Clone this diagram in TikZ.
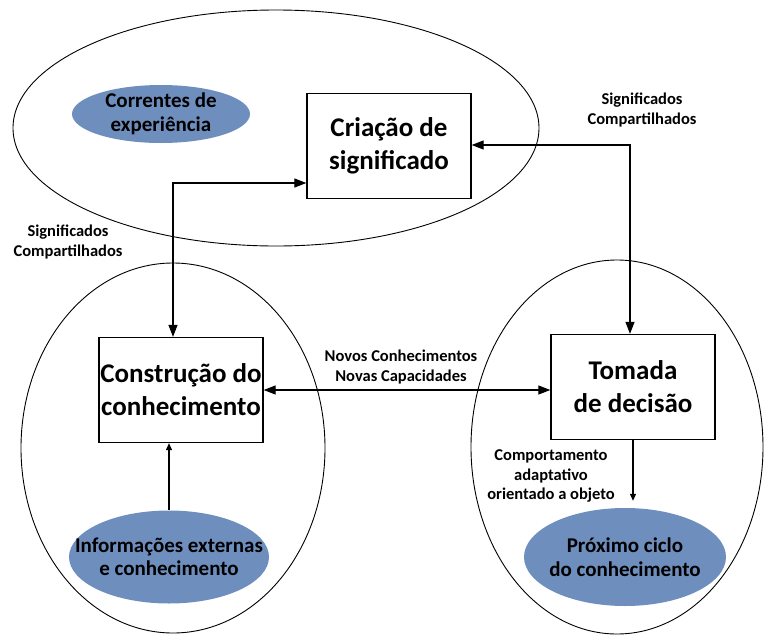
\documentclass[tikz,border=0pt]{standalone}
\usepackage{fontspec}
\setmainfont{Carlito}
\usetikzlibrary{arrows.meta,shapes.geometric}

\definecolor{cyclefill}{RGB}{110,143,190}

\begin{document}
\begin{tikzpicture}[x=1pt,y=-1pt]
    \tikzset{arena/.style = {shape=ellipse,draw,line width=0.9pt,inner sep=0pt}}
    \tikzset{stage/.style = {shape=rectangle,draw,line width=1.3pt,minimum width=164pt,minimum height=105pt,inner sep=0pt,align=center,font=\fontsize{27}{33}\selectfont\bfseries}}
    \tikzset{source/.style = {shape=ellipse,fill=cyclefill,inner sep=0pt}}
    \tikzset{source text/.style = {align=center,inner sep=0pt,font=\fontsize{21}{23.5}\selectfont\bfseries}}
    \tikzset{note/.style = {align=center,inner sep=0pt,font=\fontsize{16.5}{19.5}\selectfont\bfseries}}
    \tikzset{edge/.style = {line width=1.2pt,>={Triangle[length=12pt,width=9pt]}}}
    \tikzset{thin edge/.style = {line width=1.2pt,>={Triangle[length=7pt,width=6pt]}}}
    \useasboundingbox (0,0) rectangle (764,635);
    % contexts
    \node[arena,minimum width=526pt,minimum height=236pt] (sense) at (276,128) {};
    \node[arena,minimum width=304pt,minimum height=370pt] (build) at (173,448) {};
    \node[arena,minimum width=292pt,minimum height=374pt] (decide) at (617,447) {};
    % sources
    \node[source,minimum width=178pt,minimum height=58pt,label={[source text]center:{Correntes de\\experiência}}] (correntes) at (161,114) {};
    \node[source,minimum width=200pt,minimum height=93pt,label={[source text]center:{Informações externas\\e conhecimento}}] (informacoes) at (169,557) {};
    \node[source,minimum width=202pt,minimum height=98pt,label={[source text]center:{Próximo ciclo\\do conhecimento}}] (proximo) at (625,557) {};
    % stages
    \node[stage] (criacao) at (389,146) {Criação de\\significado};
    \node[stage] (construcao) at (181,390) {Construção do\\conhecimento};
    \node[stage] (tomada) at (633,387) {Tomada\\de decisão};
    % bends
    \coordinate (bendL) at (173,183);
    \coordinate (bendR) at (630,145);
    %edges
    \draw[edge,<->] (construcao.north -| bendL) -- (bendL) -- (criacao.west |- bendL);
    \draw[edge,<->] (criacao.east |- bendR) -- (bendR) -- (tomada.north -| bendR);
    \draw[edge,<->] (construcao.east) -- (construcao.east -| tomada.west);
    \draw[thin edge,->] (informacoes.north) -- (informacoes.north |- construcao.south);
    \draw[thin edge,->,shorten >=7pt] (tomada.south) -- (tomada.south |- proximo.north);
    % labels
    \node[note] (sigR) at (642,110) {Significados\\Compartilhados};
    \node[note] (sigL) at (68,242) {Significados\\Compartilhados};
    \node[note] (novos) at (401,367) {Novos Conhecimentos\\Novas Capacidades};
    \node[note] (comport) at (551,476) {Comportamento\\adaptativo\\orientado a objeto};
\end{tikzpicture}
\end{document}
